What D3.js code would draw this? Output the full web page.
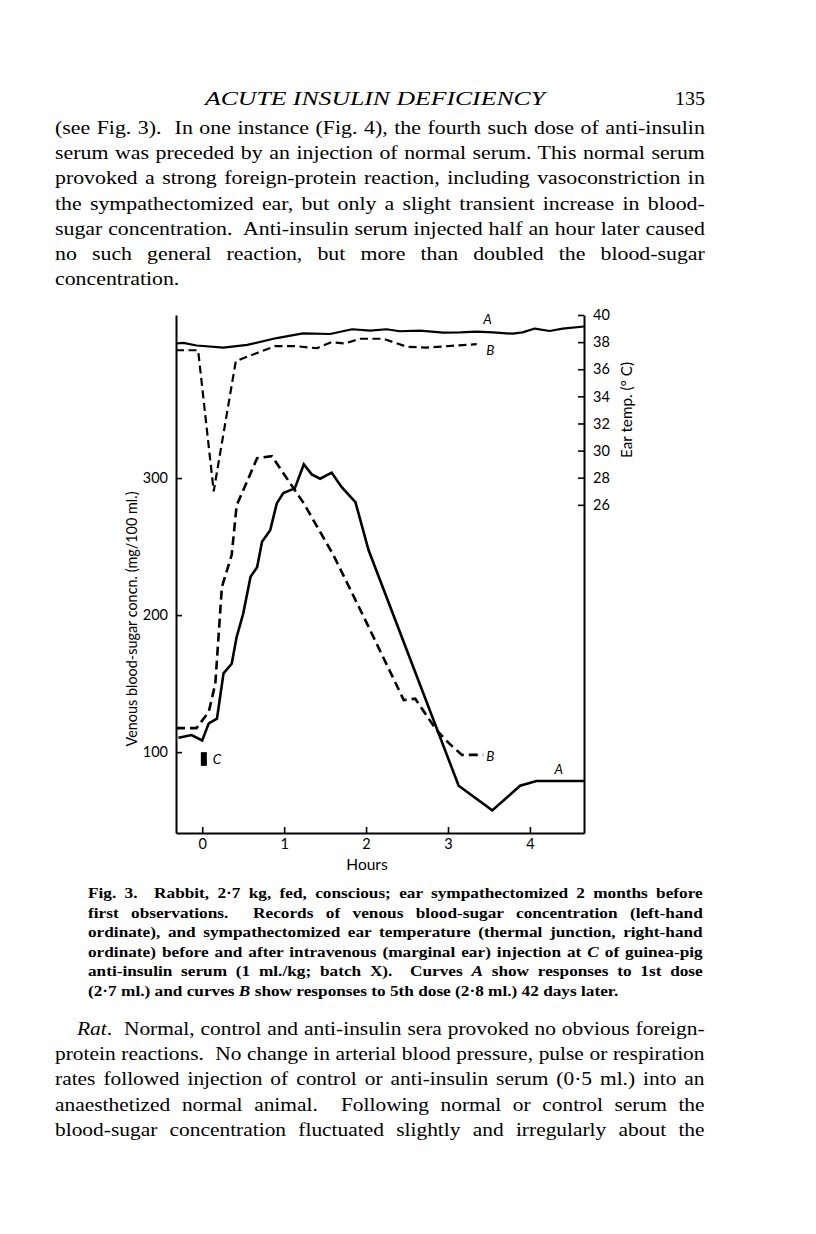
<!DOCTYPE html>
<html><head><meta charset="utf-8">
<script src="https://cdn.jsdelivr.net/npm/d3@7"></script>
<style>
html,body{margin:0;padding:0;background:#fff;}
svg{display:block;}
</style></head>
<body>
<svg id="page" width="816" height="1234"></svg>
<script>
// ---------- data ----------
const tempHoursA = [-0.32,-0.23,-0.07,0.26,0.55,0.91,1.23,1.56,1.83,2.05,2.25,2.41,2.66,2.94,3.15,3.35,3.55,3.79,3.91,4.06,4.24,4.40,4.66];
const tempA      = [37.9,37.95,37.75,37.6,37.8,38.3,38.65,38.6,38.95,38.85,38.95,38.8,38.85,38.7,38.72,38.77,38.72,38.62,38.72,39.0,38.82,39.0,39.15];
const tempHoursB = [-0.32,-0.05,0.14,0.41,0.67,0.89,1.15,1.40,1.58,1.74,1.93,2.21,2.50,2.74,3.35];
const tempB      = [37.4,37.4,27.0,36.6,37.2,37.7,37.7,37.55,38.0,37.9,38.25,38.25,37.65,37.6,37.85];
const sugarHoursA = [-0.29,-0.13,0.0,0.08,0.18,0.26,0.36,0.42,0.50,0.59,0.67,0.73,0.83,0.91,0.99,1.13,1.24,1.34,1.44,1.58,1.70,1.87,2.03,3.13,3.54,3.88,4.08,4.66];
const sugarA      = [110.5,112.5,108.5,121,124.5,157.5,164.5,184,201,228,235,253.5,262,281.5,289,292.5,310,302.5,299.5,304,293.5,282.5,247.5,75.5,57.5,75.5,79,79];
const sugarHoursB = [-0.32,-0.07,0.08,0.16,0.24,0.36,0.42,0.67,0.85,1.24,1.60,2.01,2.46,2.60,2.86,3.02,3.17,3.43];
const sugarB      = [117.5,117.5,129.5,150,220.5,244,280,314.5,316,281.5,244,194,138,139,116,106,98,98];
const hourTicks  = [0,1,2,3,4];
const sugarTicks = [100,200,300];
const tempTicks  = [26,28,30,32,34,36,38,40];
const injection  = {hour:0.02, top:100, bottom:90, label:"C"};
const headerTitle = "ACUTE INSULIN DEFICIENCY";
const pageNumber = "135";
const para1 = [
 [["(see Fig. 3).  In one instance (Fig. 4), the fourth such dose of anti-insulin",0]],
 [["serum was preceded by an injection of normal serum. This normal serum",0]],
 [["provoked a strong foreign-protein reaction, including vasoconstriction in",0]],
 [["the sympathectomized ear, but only a slight transient increase in blood-",0]],
 [["sugar concentration.  Anti-insulin serum injected half an hour later caused",0]],
 [["no such general reaction, but more than doubled the blood-sugar",0]],
 [["concentration.",0]]];
const caption = [
 [["Fig. 3.  Rabbit, 2·7 kg, fed, conscious; ear sympathectomized 2 months before",0]],
 [["first observations.  Records of venous blood-sugar concentration (left-hand",0]],
 [["ordinate), and sympathectomized ear temperature (thermal junction, right-hand",0]],
 [["ordinate) before and after intravenous (marginal ear) injection at ",0],["C",1],[" of guinea-pig",0]],
 [["anti-insulin serum (1 ml./kg; batch X).  Curves ",0],["A",1],[" show responses to 1st dose",0]],
 [["(2·7 ml.) and curves ",0],["B",1],[" show responses to 5th dose (2·8 ml.) 42 days later.",0]]];
const para2 = [
 [["Rat",1],[".  Normal, control and anti-insulin sera provoked no obvious foreign-",0]],
 [["protein reactions.  No change in arterial blood pressure, pulse or respiration",0]],
 [["rates followed injection of control or anti-insulin serum (0·5 ml.) into an",0]],
 [["anaesthetized normal animal.  Following normal or control serum the",0]],
 [["blood-sugar concentration fluctuated slightly and irregularly about the",0]]];

// ---------- page text ----------
const svg = d3.select("#page");
const serif = "'Liberation Serif','DejaVu Serif',serif";
const sans = "Lato,'Open Sans',sans-serif";

svg.append("text").attr("x",205).attr("y",105).attr("font-family",serif).attr("font-style","italic")
  .attr("font-size",18).attr("textLength",340).attr("lengthAdjust","spacingAndGlyphs").text(headerTitle);
svg.append("text").attr("x",705).attr("y",105).attr("text-anchor","end").attr("font-family",serif)
  .attr("font-size",18.5).attr("textLength",30).attr("lengthAdjust","spacingAndGlyphs").text(pageNumber);

// block of justified lines: uniform horizontal scale, word-spacing justification
function block(lines, opts){
  const els = lines.map((ln,i)=>{
    const el = svg.append("text").attr("font-family",serif).attr("font-size",opts.size)
      .attr("font-weight",opts.weight||"normal").style("white-space","pre");
    ln.forEach(p=>el.append("tspan").attr("font-style",p[1]?"italic":"normal").text(p[0]));
    return el;
  });
  const info = els.map((el,i)=>{
    const x0 = (opts.indent && i===0) ? opts.x+opts.indent : opts.x;
    const target = opts.right - x0;
    const w = el.node().getComputedTextLength();
    const txt = lines[i].map(p=>p[0]).join("");
    const n = (txt.match(/ /g)||[]).length;
    const just = opts.lastJustified || i<lines.length-1;
    return {el,x0,target,w,n,just};
  });
  let sx = d3.min(info.filter(d=>d.just), d=>d.target/d.w);
  sx = Math.max(1, Math.min(opts.maxScale||1.15, sx*0.995));
  info.forEach((d,i)=>{
    const y = opts.y + i*opts.lh;
    d.el.attr("transform",`translate(${d.x0},${y}) scale(${sx},1)`);
    if(d.just && d.n>0){
      const ws = (d.target/sx - d.w)/d.n;
      d.el.attr("word-spacing", ws);
    }
  });
}
block(para1,{x:55,right:705,y:134,lh:25.2,size:19,lastJustified:false});
block(caption,{x:88,right:703,y:898,lh:19.5,size:15,weight:"bold",lastJustified:false});
block(para2,{x:55,right:705,y:1035,lh:25.2,size:19,indent:22,lastJustified:true});

// ---------- chart ----------
const x = d3.scaleLinear().domain([-0.32,4.66]).range([176,584]);
const yS = d3.scaleLinear().domain([41,419]).range([833,315]);
const yT = d3.scaleLinear().domain([1.8,40]).range([833,315]);
const g = svg.append("g");

const axisStyle = sel=>{
  sel.selectAll("path.domain").attr("stroke","#000").attr("stroke-width",2);
  sel.selectAll(".tick line").attr("stroke","#000").attr("stroke-width",1.6);
  sel.selectAll("text").attr("font-family",sans).attr("font-size",14.5).attr("fill","#000");
};
g.append("g").attr("transform","translate(0,833)")
  .call(d3.axisBottom(x).tickValues(hourTicks).tickSizeInner(-6).tickSizeOuter(0).tickPadding(6).tickFormat(d3.format("d")))
  .call(axisStyle);
g.append("g").attr("transform","translate(176,0)")
  .call(d3.axisLeft(yS).tickValues(sugarTicks).tickSizeInner(-6).tickSizeOuter(0).tickPadding(8))
  .call(axisStyle);
g.append("g").attr("transform","translate(584,0)")
  .call(d3.axisRight(yT).tickValues(tempTicks).tickSizeInner(-6).tickSizeOuter(0).tickPadding(9))
  .call(axisStyle);

g.append("text").attr("transform","translate(367,870)").attr("text-anchor","middle")
  .attr("font-family",sans).attr("font-size",15.5).text("Hours");
g.append("text").attr("transform","translate(132,619) rotate(-90)").attr("text-anchor","middle")
  .attr("dy","0.35em").attr("font-family",sans).attr("font-size",15)
  .attr("textLength",255).attr("lengthAdjust","spacingAndGlyphs")
  .text("Venous blood-sugar concn. (mg/100 ml.)");
g.append("text").attr("transform","translate(627,410) rotate(-90)").attr("text-anchor","middle")
  .attr("dy","0.35em").attr("font-family",sans).attr("font-size",15)
  .attr("textLength",96).attr("lengthAdjust","spacingAndGlyphs")
  .text("Ear temp. (° C)");

const mk = (hs,vs)=>hs.map((h,i)=>[h,vs[i]]);
const lineS = d3.line().x(d=>x(d[0])).y(d=>yS(d[1]));
const lineT = d3.line().x(d=>x(d[0])).y(d=>yT(d[1]));

g.append("path").attr("d",lineT(mk(tempHoursA,tempA))).attr("fill","none").attr("stroke","#000")
  .attr("stroke-width",2.2).attr("stroke-linejoin","round");
g.append("path").attr("d",lineT(mk(tempHoursB,tempB))).attr("fill","none").attr("stroke","#000")
  .attr("stroke-width",2.2).attr("stroke-dasharray","8,4.5");
g.append("path").attr("d",lineS(mk(sugarHoursA,sugarA))).attr("fill","none").attr("stroke","#000")
  .attr("stroke-width",2.6).attr("stroke-linejoin","miter");
g.append("path").attr("d",lineS(mk(sugarHoursB,sugarB))).attr("fill","none").attr("stroke","#000")
  .attr("stroke-width",2.6).attr("stroke-dasharray","9,5");

// injection marker
g.append("rect").attr("x",x(injection.hour)-3).attr("width",6)
  .attr("y",yS(injection.top)).attr("height",yS(injection.bottom)-yS(injection.top)).attr("fill","#000");

const lab = (t,px,py)=>g.append("text").attr("x",px).attr("y",py).attr("font-family",sans)
  .attr("font-style","italic").attr("font-size",13.5).text(t);
lab("A", x(3.43), yT(39.3));
lab("B", x(3.43)+3, yT(37.05));
lab("B", x(3.43)+3, yS(93.5));
lab("A", x(4.3), yS(84));
lab(injection.label, x(injection.hour)+9, yS(91.5));
</script>
</body></html>
